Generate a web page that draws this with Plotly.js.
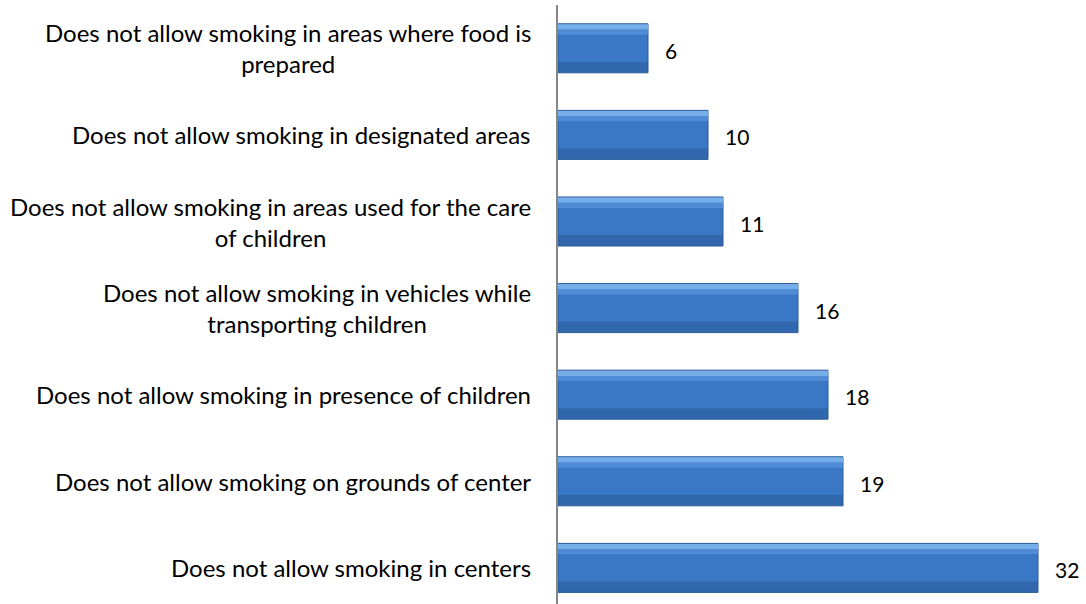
<!DOCTYPE html>
<html>
<head>
<meta charset="utf-8">
<script src="https://cdn.plot.ly/plotly-3.0.1.min.js"></script>
<style>
html,body{margin:0;padding:0;background:#fff;}
#chart{width:1086px;height:604px;}
</style>
</head>
<body>
<div id="chart"></div>
<script>
// Categories, top to bottom as in the reference
var categories = [
  "Does not allow smoking in areas where food is<br>prepared",
  "Does not allow smoking in designated areas",
  "Does not allow smoking in areas used for the care<br>of children",
  "Does not allow smoking in vehicles while<br>transporting children",
  "Does not allow smoking in presence of children",
  "Does not allow smoking on grounds of center",
  "Does not allow smoking in centers"
];
var values = [6, 10, 11, 16, 18, 19, 32];
var valueLabels = ["6", "10", "11", "16", "18", "19", "32"];

var BW = 0.566;
var FONT = "Lato, 'Open Sans', sans-serif";

var mainBar = {
  type: "bar", orientation: "h",
  x: values, y: categories,
  width: BW,
  marker: {color: "#3a77c4", line: {color: "#2b5b97", width: 1}},
  hoverinfo: "skip"
};
var topHi = {
  type: "bar", orientation: "h",
  x: values, y: categories,
  width: 0.06, offset: -BW/2 + 0.006,
  marker: {color: "rgba(125,180,238,0.9)", line: {width: 0}},
  hoverinfo: "skip"
};
var topHi2 = {
  type: "bar", orientation: "h",
  x: values, y: categories,
  width: 0.06, offset: -BW/2 + 0.066,
  marker: {color: "rgba(95,155,225,0.6)", line: {width: 0}},
  hoverinfo: "skip"
};
var botShade = {
  type: "bar", orientation: "h",
  x: values, y: categories,
  width: 0.12, offset: BW/2 - 0.126,
  marker: {color: "rgba(40,85,145,0.45)", line: {width: 0}},
  hoverinfo: "skip"
};

var annotations = [];
categories.forEach(function(c, i){
  annotations.push({
    xref: "x", yref: "y", x: 0, y: c,
    xanchor: "right", yanchor: "middle", xshift: -25,
    text: c, align: "center", showarrow: false,
    font: {family: FONT, size: 24, color: "#000"}
  });
  annotations.push({
    xref: "x", yref: "y", x: values[i], y: c,
    xanchor: "left", yanchor: "middle", xshift: 15, yshift: -2,
    text: valueLabels[i], showarrow: false,
    font: {family: FONT, size: 21, color: "#000"}
  });
});

var layout = {
  width: 1086, height: 604,
  margin: {l: 558, r: 0, t: 5, b: 0},
  paper_bgcolor: "#fff", plot_bgcolor: "#fff",
  barmode: "overlay",
  showlegend: false,
  xaxis: {range: [0, 35.2], visible: false, fixedrange: true},
  yaxis: {
    type: "category",
    range: [6.417, -0.5],
    showticklabels: false, ticks: "",
    showgrid: false, zeroline: false,
    showline: true, linecolor: "#868686", linewidth: 2
  },
  annotations: annotations
};

Plotly.newPlot("chart", [mainBar, topHi, topHi2, botShade], layout, {staticPlot: true, displayModeBar: false});
</script>
</body>
</html>
